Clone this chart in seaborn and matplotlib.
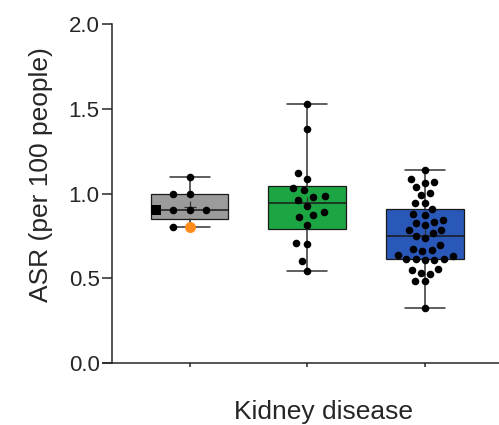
import numpy as np
import pandas as pd
import matplotlib
matplotlib.use("Agg")
import matplotlib.pyplot as plt
import seaborn as sns

# values (ASR per 100 people)
groups = ["Group 1", "Group 2", "Group 3"]
gray_vals = [1.10, 1.00, 1.00, 0.90, 0.90, 0.90, 0.90, 0.80, 0.80]
green_vals = [1.528, 1.379, 1.123, 1.087, 1.031, 1.019, 0.987, 0.981, 0.962,
              0.926, 0.891, 0.871, 0.861, 0.816, 0.706, 0.700, 0.600, 0.541]
blue_vals = [1.139, 1.086, 1.066, 1.060, 1.040, 1.003, 0.993, 0.946, 0.946,
             0.907, 0.877, 0.871, 0.842, 0.830, 0.826, 0.812, 0.787, 0.785,
             0.765, 0.751, 0.736, 0.694, 0.671, 0.667, 0.659, 0.639, 0.631,
             0.615, 0.615, 0.615, 0.608, 0.608, 0.556, 0.549, 0.529, 0.527,
             0.482, 0.482, 0.324]
square_value = 0.90   # point drawn as a square in the first group
orange_value = 0.80   # point drawn in orange in the first group
box_colors = ["#9b9b9b", "#1ca643", "#2a58b8"]

all_vals = [gray_vals, green_vals, blue_vals]
df = pd.DataFrame({
    "group": np.repeat(groups, [len(v) for v in all_vals]),
    "value": np.concatenate(all_vals),
})

sns.set_style("ticks")
plt.rcParams["font.family"] = ["Liberation Sans", "DejaVu Sans"]
plt.rcParams["axes.linewidth"] = 1.1

fig = plt.figure(figsize=(4.99, 4.25), dpi=100)
ax = fig.add_axes([103 / 499, 62 / 425, 396 / 499, 339 / 425])

#%% boxes: Prism style quartiles, whiskers min to max
stats = []
for vals in all_vals:
    v = np.array(vals)
    q1, med, q3 = np.percentile(v, [25, 50, 75], method="weibull")
    stats.append(dict(med=med, q1=q1, q3=q3, whislo=v.min(), whishi=v.max(),
                      mean=v.mean(), fliers=[]))

bp = ax.bxp(stats, positions=[0, 1, 2], widths=0.66, capwidths=0.34,
            patch_artist=True, showmeans=True, showfliers=False,
            boxprops=dict(edgecolor="#1a1a1a", linewidth=0.9),
            medianprops=dict(color="#1a1a1a", linewidth=1.1),
            whiskerprops=dict(color="#333333", linewidth=1.1),
            capprops=dict(color="#333333", linewidth=1.1),
            meanprops=dict(marker="+", markersize=9, markeredgecolor="#333333",
                           markeredgewidth=0.9),
            manage_ticks=False)
for patch, c in zip(bp["boxes"], box_colors):
    patch.set_facecolor(c)

#%% points
sns.swarmplot(data=df, x="group", y="value", order=groups, color="black",
              size=5, linewidth=0, ax=ax, zorder=3)

# lay out the swarm with a wider spacing, then shrink the dots
layout_px = [16, 11, 9]
for coll, px in zip(ax.collections, layout_px):
    coll.set_sizes([(px * 72 / 100) ** 2])
ax.set_xlim(-0.737, 2.63)
ax.set_ylim(0, 2.0)
fig.canvas.draw()
for coll in list(ax.collections):
    if "draw" in coll.__dict__:
        del coll.draw
    coll.set_sizes([(7.6 * 72 / 100) ** 2])

pts = ax.collections[0].get_offsets()
row = pts[np.isclose(pts[:, 1], square_value)]
sq = row[np.argmin(row[:, 0])]
ax.scatter(sq[0], sq[1], marker="s", s=(9.5 * 72 / 100) ** 2, color="black",
           linewidth=0, zorder=4)
row = pts[np.isclose(pts[:, 1], orange_value)]
orn = row[np.argmax(row[:, 0])]
ax.scatter(orn[0], orn[1], marker="o", s=(11 * 72 / 100) ** 2,
           color="#ff8c1a", linewidth=0, zorder=4)

#%% axes styling
ax.set_xlim(-0.737, 2.63)
ax.set_ylim(0, 2.0)
ax.spines["top"].set_visible(False)
ax.spines["right"].set_visible(False)
ax.spines["left"].set_position(("data", -0.66))
ax.spines["bottom"].set_bounds(-0.737, 2.63)
ax.set_yticks([0, 0.5, 1.0, 1.5, 2.0])
ax.set_yticklabels(["0.0", "0.5", "1.0", "1.5", "2.0"])
ax.set_xticks([0, 1, 2])
ax.set_xticklabels([])
ax.tick_params(axis="y", length=7, width=1.1, labelsize=16, pad=2)
ax.tick_params(axis="x", length=3, width=1.1)

ax.set_ylabel("ASR (per 100 people)", fontsize=19)
ax.set_xlabel("Kidney disease", fontsize=19)
ax.yaxis.set_label_coords(-0.125, 0.557)
ax.xaxis.set_label_coords(0.558, -0.11)

fig.savefig("out.png", dpi=100)
